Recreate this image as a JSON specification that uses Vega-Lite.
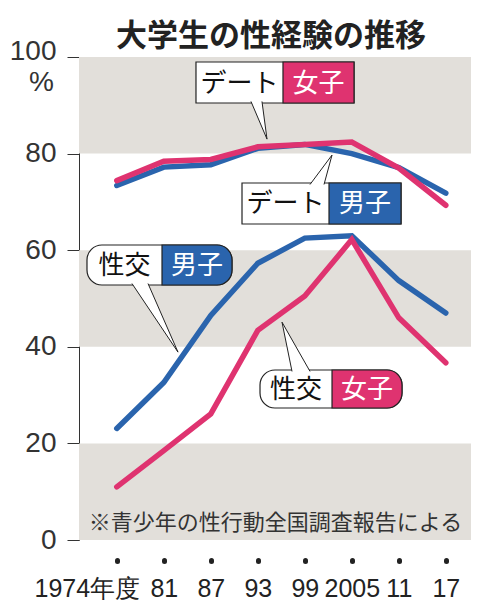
{
  "$schema": "https://vega.github.io/schema/vega-lite/v6.json",
  "width": 392,
  "height": 483,
  "autosize": "none",
  "padding": {"left": 79, "top": 57, "right": 9, "bottom": 74},
  "background": "white",
  "config": {"view": {"stroke": null}},
  "title": {
    "text": "大学生の性経験の推移",
    "font": "Noto Sans CJK JP",
    "fontSize": 31,
    "fontWeight": "bold",
    "color": "#222",
    "anchor": "middle",
    "frame": "group",
    "offset": 10,
    "dx": -4,
    "dy": 26
  },
  "datasets": {
    "survey": [
      {"year": "1974年度", "kind": "デート", "sex": "男子", "value": 73.4},
      {"year": "81", "kind": "デート", "sex": "男子", "value": 77.2},
      {"year": "87", "kind": "デート", "sex": "男子", "value": 77.7},
      {"year": "93", "kind": "デート", "sex": "男子", "value": 81.1},
      {"year": "99", "kind": "デート", "sex": "男子", "value": 81.9},
      {"year": "2005", "kind": "デート", "sex": "男子", "value": 80.0},
      {"year": "11", "kind": "デート", "sex": "男子", "value": 77.1},
      {"year": "17", "kind": "デート", "sex": "男子", "value": 71.8},
      {"year": "1974年度", "kind": "デート", "sex": "女子", "value": 74.4},
      {"year": "81", "kind": "デート", "sex": "女子", "value": 78.4},
      {"year": "87", "kind": "デート", "sex": "女子", "value": 78.8},
      {"year": "93", "kind": "デート", "sex": "女子", "value": 81.4},
      {"year": "99", "kind": "デート", "sex": "女子", "value": 81.9},
      {"year": "2005", "kind": "デート", "sex": "女子", "value": 82.4},
      {"year": "11", "kind": "デート", "sex": "女子", "value": 77.0},
      {"year": "17", "kind": "デート", "sex": "女子", "value": 69.3},
      {"year": "1974年度", "kind": "性交", "sex": "男子", "value": 23.1},
      {"year": "81", "kind": "性交", "sex": "男子", "value": 32.6},
      {"year": "87", "kind": "性交", "sex": "男子", "value": 46.5},
      {"year": "93", "kind": "性交", "sex": "男子", "value": 57.3},
      {"year": "99", "kind": "性交", "sex": "男子", "value": 62.5},
      {"year": "2005", "kind": "性交", "sex": "男子", "value": 63.0},
      {"year": "11", "kind": "性交", "sex": "男子", "value": 53.7},
      {"year": "17", "kind": "性交", "sex": "男子", "value": 47.0},
      {"year": "1974年度", "kind": "性交", "sex": "女子", "value": 11.0},
      {"year": "81", "kind": "性交", "sex": "女子", "value": 18.5},
      {"year": "87", "kind": "性交", "sex": "女子", "value": 26.1},
      {"year": "93", "kind": "性交", "sex": "女子", "value": 43.4},
      {"year": "99", "kind": "性交", "sex": "女子", "value": 50.5},
      {"year": "2005", "kind": "性交", "sex": "女子", "value": 62.2},
      {"year": "11", "kind": "性交", "sex": "女子", "value": 46.0},
      {"year": "17", "kind": "性交", "sex": "女子", "value": 36.7}
    ],
    "bands": [
      {"lo": 0, "hi": 20},
      {"lo": 40, "hi": 60},
      {"lo": 80, "hi": 100}
    ],
    "boxes": [
      {"c": "DF", "shape": "rect", "sex": "女子", "x1": 1.685, "split": 3.536, "x2": 5.047, "y1": 90.48, "y2": 98.96},
      {"c": "DM", "shape": "rect", "sex": "男子", "x1": 2.664, "split": 4.515, "x2": 6.047, "y1": 65.42, "y2": 73.91},
      {"c": "SM", "shape": "round", "sex": "男子", "x1": -0.634, "split": 0.962, "x2": 2.451, "y1": 52.8, "y2": 61.08},
      {"c": "SF", "shape": "round", "sex": "女子", "x1": 3.047, "split": 4.579, "x2": 6.068, "y1": 27.33, "y2": 35.2}
    ],
    "tails": [
      {"c": "DF", "o": 1, "ax": 2.855, "v": 90.8},
      {"c": "DF", "o": 2, "ax": 3.196, "v": 83.0},
      {"c": "DF", "o": 3, "ax": 3.089, "v": 90.8},
      {"c": "DM", "o": 1, "ax": 4.111, "v": 73.6},
      {"c": "DM", "o": 2, "ax": 4.579, "v": 79.7},
      {"c": "DM", "o": 3, "ax": 4.409, "v": 73.6},
      {"c": "SM", "o": 1, "ax": 0.323, "v": 53.1},
      {"c": "SM", "o": 2, "ax": 1.302, "v": 38.9},
      {"c": "SM", "o": 3, "ax": 0.664, "v": 53.1},
      {"c": "SF", "o": 1, "ax": 3.728, "v": 34.9},
      {"c": "SF", "o": 2, "ax": 3.515, "v": 45.1},
      {"c": "SF", "o": 3, "ax": 4.111, "v": 34.9}
    ],
    "labels": [
      {"c": "DF", "part": "kind", "label": "デート", "ax": 2.61, "v": 94.7},
      {"c": "DF", "part": "sex", "label": "女子", "ax": 4.291, "v": 94.7},
      {"c": "DM", "part": "kind", "label": "デート", "ax": 3.589, "v": 69.67},
      {"c": "DM", "part": "sex", "label": "男子", "ax": 5.281, "v": 69.67},
      {"c": "SM", "part": "kind", "label": "性交", "ax": 0.164, "v": 56.94},
      {"c": "SM", "part": "sex", "label": "男子", "ax": 1.706, "v": 56.94},
      {"c": "SF", "part": "kind", "label": "性交", "ax": 3.813, "v": 31.26},
      {"c": "SF", "part": "sex", "label": "女子", "ax": 5.323, "v": 31.26}
    ],
    "note": [
      {"text": "※青少年の性行動全国調査報告による", "ax": 3.377, "v": 3.5}
    ]
  },
  "layer": [
    {
      "data": {"name": "bands"},
      "mark": {"type": "rect", "color": "#e2dfda"},
      "encoding": {
        "y": {
          "field": "lo",
          "type": "quantitative",
          "scale": {"domain": [0, 100], "nice": false},
          "axis": {
            "values": [0, 20, 40, 60, 80, 100],
            "grid": false,
            "tickSize": 12,
            "tickColor": "#333",
            "tickWidth": 1,
            "domainColor": "#333",
            "domainWidth": 1,
            "labelFont": "Liberation Sans",
            "labelFontSize": 28,
            "labelColor": "#333",
            "labelPadding": 11,
            "labelOffset": {"condition": {"test": "datum.value === 100", "value": -6}, "value": 0},
            "title": "%",
            "titleAngle": 0,
            "titleX": -38,
            "titleY": 33,
            "titleAlign": "center",
            "titleBaseline": "alphabetic",
            "titleFont": "Liberation Sans",
            "titleFontSize": 28,
            "titleFontWeight": "normal",
            "titleColor": "#333"
          }
        },
        "y2": {"field": "hi"}
      }
    },
    {
      "data": {"name": "survey"},
      "encoding": {
        "x": {
          "field": "year",
          "type": "ordinal",
          "sort": null,
          "scale": {"type": "point", "padding": 0.67, "align": 0.6},
          "axis": {
            "orient": "bottom",
            "offset": 20,
            "domain": false,
            "grid": false,
            "tickSize": 1,
            "tickWidth": 5,
            "tickCap": "round",
            "tickColor": "#222",
            "labelFont": "Liberation Sans",
            "labelFontSize": 25,
            "labelColor": "#222",
            "labelPadding": 35,
            "labelBaseline": "alphabetic",
            "labelAngle": 0,
            "labelOverlap": false,
            "labelBound": false,
            "labelOffset": {"condition": {"test": "datum.value === '1974年度'", "value": -30}, "value": 0},
            "title": null
          }
        },
        "y": {"field": "value", "type": "quantitative", "scale": {"domain": [0, 100], "nice": false}},
        "color": {
          "field": "sex",
          "type": "nominal",
          "scale": {"domain": ["男子", "女子"], "range": ["#2a64ad", "#df3370"]},
          "legend": null
        },
        "detail": {"field": "kind"}
      },
      "layer": [
        {
          "transform": [{"filter": "datum.sex === '男子'"}],
          "mark": {"type": "line", "strokeWidth": 5.5, "strokeCap": "round"}
        },
        {
          "transform": [{"filter": "datum.sex === '女子'"}],
          "mark": {"type": "line", "strokeWidth": 5.5, "strokeCap": "round"}
        }
      ]
    },
    {
      "layer": [
        {
          "data": {"name": "boxes"},
          "transform": [{"filter": "datum.shape === 'rect'"}],
          "mark": {"type": "rect", "fill": "white", "stroke": "#222", "strokeWidth": 1.2},
          "encoding": {
            "x": {"field": "x1", "type": "quantitative", "scale": {"domain": [-0.804, 7.536], "nice": false, "zero": false}, "axis": null},
            "x2": {"field": "x2"},
            "y": {"field": "y1", "type": "quantitative"},
            "y2": {"field": "y2"}
          }
        },
        {
          "data": {"name": "boxes"},
          "transform": [{"filter": "datum.shape === 'rect'"}],
          "mark": {"type": "rect", "stroke": "#222", "strokeWidth": 1.2},
          "encoding": {
            "x": {"field": "split", "type": "quantitative", "scale": {"domain": [-0.804, 7.536], "nice": false, "zero": false}, "axis": null},
            "x2": {"field": "x2"},
            "y": {"field": "y1", "type": "quantitative"},
            "y2": {"field": "y2"},
            "fill": {"field": "sex", "type": "nominal", "scale": {"domain": ["男子", "女子"], "range": ["#2a64ad", "#df3370"]}, "legend": null}
          }
        },
        {
          "data": {"name": "boxes"},
          "transform": [{"filter": "datum.shape === 'round'"}],
          "mark": {"type": "rect", "fill": "white", "stroke": "#222", "strokeWidth": 1.2, "cornerRadius": 15},
          "encoding": {
            "x": {"field": "x1", "type": "quantitative", "scale": {"domain": [-0.804, 7.536], "nice": false, "zero": false}, "axis": null},
            "x2": {"field": "x2"},
            "y": {"field": "y1", "type": "quantitative"},
            "y2": {"field": "y2"}
          }
        },
        {
          "data": {"name": "boxes"},
          "transform": [{"filter": "datum.shape === 'round'"}],
          "mark": {"type": "rect", "stroke": "#222", "strokeWidth": 1.2, "cornerRadiusTopRight": 15, "cornerRadiusBottomRight": 15},
          "encoding": {
            "x": {"field": "split", "type": "quantitative", "scale": {"domain": [-0.804, 7.536], "nice": false, "zero": false}, "axis": null},
            "x2": {"field": "x2"},
            "y": {"field": "y1", "type": "quantitative"},
            "y2": {"field": "y2"},
            "fill": {"field": "sex", "type": "nominal", "scale": {"domain": ["男子", "女子"], "range": ["#2a64ad", "#df3370"]}, "legend": null}
          }
        },
        {
          "data": {"name": "tails"},
          "mark": {"type": "line", "fill": "white", "stroke": "#222", "strokeWidth": 1, "strokeJoin": "miter"},
          "encoding": {
            "x": {"field": "ax", "type": "quantitative", "scale": {"domain": [-0.804, 7.536], "nice": false, "zero": false}, "axis": null},
            "y": {"field": "v", "type": "quantitative"},
            "detail": {"field": "c"},
            "order": {"field": "o"}
          }
        },
        {
          "data": {"name": "labels"},
          "mark": {"type": "text", "font": "Noto Sans CJK JP", "fontSize": 26, "align": "center", "baseline": "middle", "dy": 1},
          "encoding": {
            "x": {"field": "ax", "type": "quantitative", "scale": {"domain": [-0.804, 7.536], "nice": false, "zero": false}, "axis": null},
            "y": {"field": "v", "type": "quantitative"},
            "text": {"field": "label"},
            "color": {"condition": {"test": "datum.part === 'sex'", "value": "white"}, "value": "#111"}
          }
        },
        {
          "data": {"name": "note"},
          "mark": {"type": "text", "font": "Noto Sans CJK JP", "fontSize": 22, "align": "center", "baseline": "middle", "color": "#333"},
          "encoding": {
            "x": {"field": "ax", "type": "quantitative", "scale": {"domain": [-0.804, 7.536], "nice": false, "zero": false}, "axis": null},
            "y": {"field": "v", "type": "quantitative"},
            "text": {"field": "text"}
          }
        }
      ]
    }
  ],
  "resolve": {"scale": {"x": "independent"}}
}
